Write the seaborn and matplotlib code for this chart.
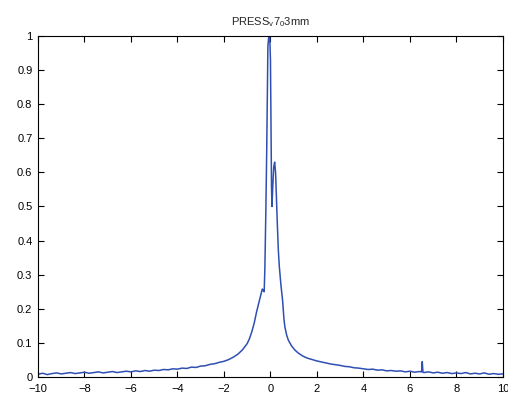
import matplotlib
matplotlib.use('Agg')
import matplotlib.pyplot as plt
import matplotlib.ticker as mticker
import seaborn as sns

# spectrum (chemical shift vs normalised amplitude)
shift = [-10.0, -9.8, -9.6, -9.4, -9.2, -9.0, -8.8, -8.6, -8.4, -8.2,
         -8.0, -7.8, -7.6, -7.4, -7.2, -7.0, -6.8, -6.6, -6.4, -6.2,
         -6.0, -5.8, -5.6, -5.4, -5.2, -5.0, -4.8, -4.6, -4.4, -4.2,
         -4.0, -3.8, -3.6, -3.4, -3.2, -3.0, -2.8, -2.6, -2.4, -2.2,
         -2.0, -1.8, -1.6, -1.4, -1.2, -1.0, -0.9, -0.8, -0.7, -0.6,
         -0.5, -0.4, -0.35, -0.3, -0.27, -0.24, -0.2, -0.16, -0.13, -0.11,
         -0.07, -0.03, 0.0, 0.02, 0.045, 0.065, 0.1, 0.14, 0.18, 0.22,
         0.26, 0.3, 0.34, 0.38, 0.45, 0.52, 0.58, 0.62, 0.7, 0.77,
         0.9, 1.05, 1.2, 1.4, 1.6, 1.8, 2.0, 2.2, 2.4, 2.6,
         2.8, 3.0, 3.2, 3.4, 3.6, 3.8, 4.0, 4.2, 4.4, 4.6,
         4.8, 5.0, 5.2, 5.4, 5.6, 5.8, 6.0, 6.2, 6.4, 6.5,
         6.53, 6.56, 6.6, 6.8, 7.0, 7.2, 7.4, 7.6, 7.8, 8.0,
         8.2, 8.4, 8.6, 8.8, 9.0, 9.2, 9.4, 9.6, 9.8, 10.0]
amp = [0.008, 0.011, 0.007, 0.010, 0.012, 0.009, 0.011, 0.013, 0.010, 0.012,
       0.014, 0.011, 0.013, 0.015, 0.012, 0.014, 0.016, 0.013, 0.015, 0.017,
       0.015, 0.018, 0.016, 0.019, 0.017, 0.020, 0.019, 0.022, 0.021, 0.024,
       0.023, 0.026, 0.025, 0.029, 0.028, 0.032, 0.033, 0.037, 0.039, 0.043,
       0.046, 0.051, 0.058, 0.067, 0.080, 0.098, 0.113, 0.133, 0.158, 0.190,
       0.218, 0.245, 0.258, 0.252, 0.250, 0.320, 0.480, 0.670, 0.850, 0.970,
       1.000, 0.995, 0.930, 0.750, 0.560, 0.500, 0.560, 0.615, 0.630, 0.600,
       0.520, 0.440, 0.370, 0.325, 0.270, 0.226, 0.170, 0.147, 0.122, 0.108,
       0.092, 0.079, 0.070, 0.061, 0.055, 0.051, 0.047, 0.044, 0.041, 0.038,
       0.036, 0.034, 0.031, 0.030, 0.027, 0.026, 0.024, 0.022, 0.023, 0.020,
       0.021, 0.018, 0.019, 0.017, 0.018, 0.015, 0.017, 0.014, 0.016, 0.015,
       0.045, 0.014, 0.013, 0.015, 0.012, 0.014, 0.011, 0.013, 0.010, 0.012,
       0.010, 0.013, 0.009, 0.011, 0.009, 0.012, 0.008, 0.010, 0.008, 0.009]

xticks = [-10, -8, -6, -4, -2, 0, 2, 4, 6, 8, 10]
yticks = [0, 0.1, 0.2, 0.3, 0.4, 0.5, 0.6, 0.7, 0.8, 0.9, 1]

sns.set_style('ticks')
plt.rcParams['font.family'] = ['Liberation Sans', 'DejaVu Sans']
plt.rcParams['mathtext.default'] = 'regular'

fig = plt.figure(figsize=(5.08, 3.97), dpi=100)
ax = fig.add_axes([0.0748, 0.0504, 0.9152, 0.8589])

sns.lineplot(x=shift, y=amp, sort=False, color='#2f4fb3', linewidth=1.1, ax=ax)

ax.set_xlim(-10, 10)
ax.set_ylim(0, 1)
ax.set_xticks(xticks)
ax.set_yticks(yticks)
ax.yaxis.set_major_formatter(mticker.FuncFormatter(lambda v, p: f'{v:g}'))
ax.tick_params(direction='in', top=True, right=True, length=4, width=0.8,
               labelsize=8, colors='black')
ax.tick_params(axis='x', pad=5)
ax.tick_params(axis='y', pad=4)
for s in ax.spines.values():
    s.set_linewidth(0.8)
    s.set_color('black')
ax.set_title('PRESS$_v$7$_0$3mm', fontsize=8, pad=8)

fig.savefig('out.png', dpi=100)
